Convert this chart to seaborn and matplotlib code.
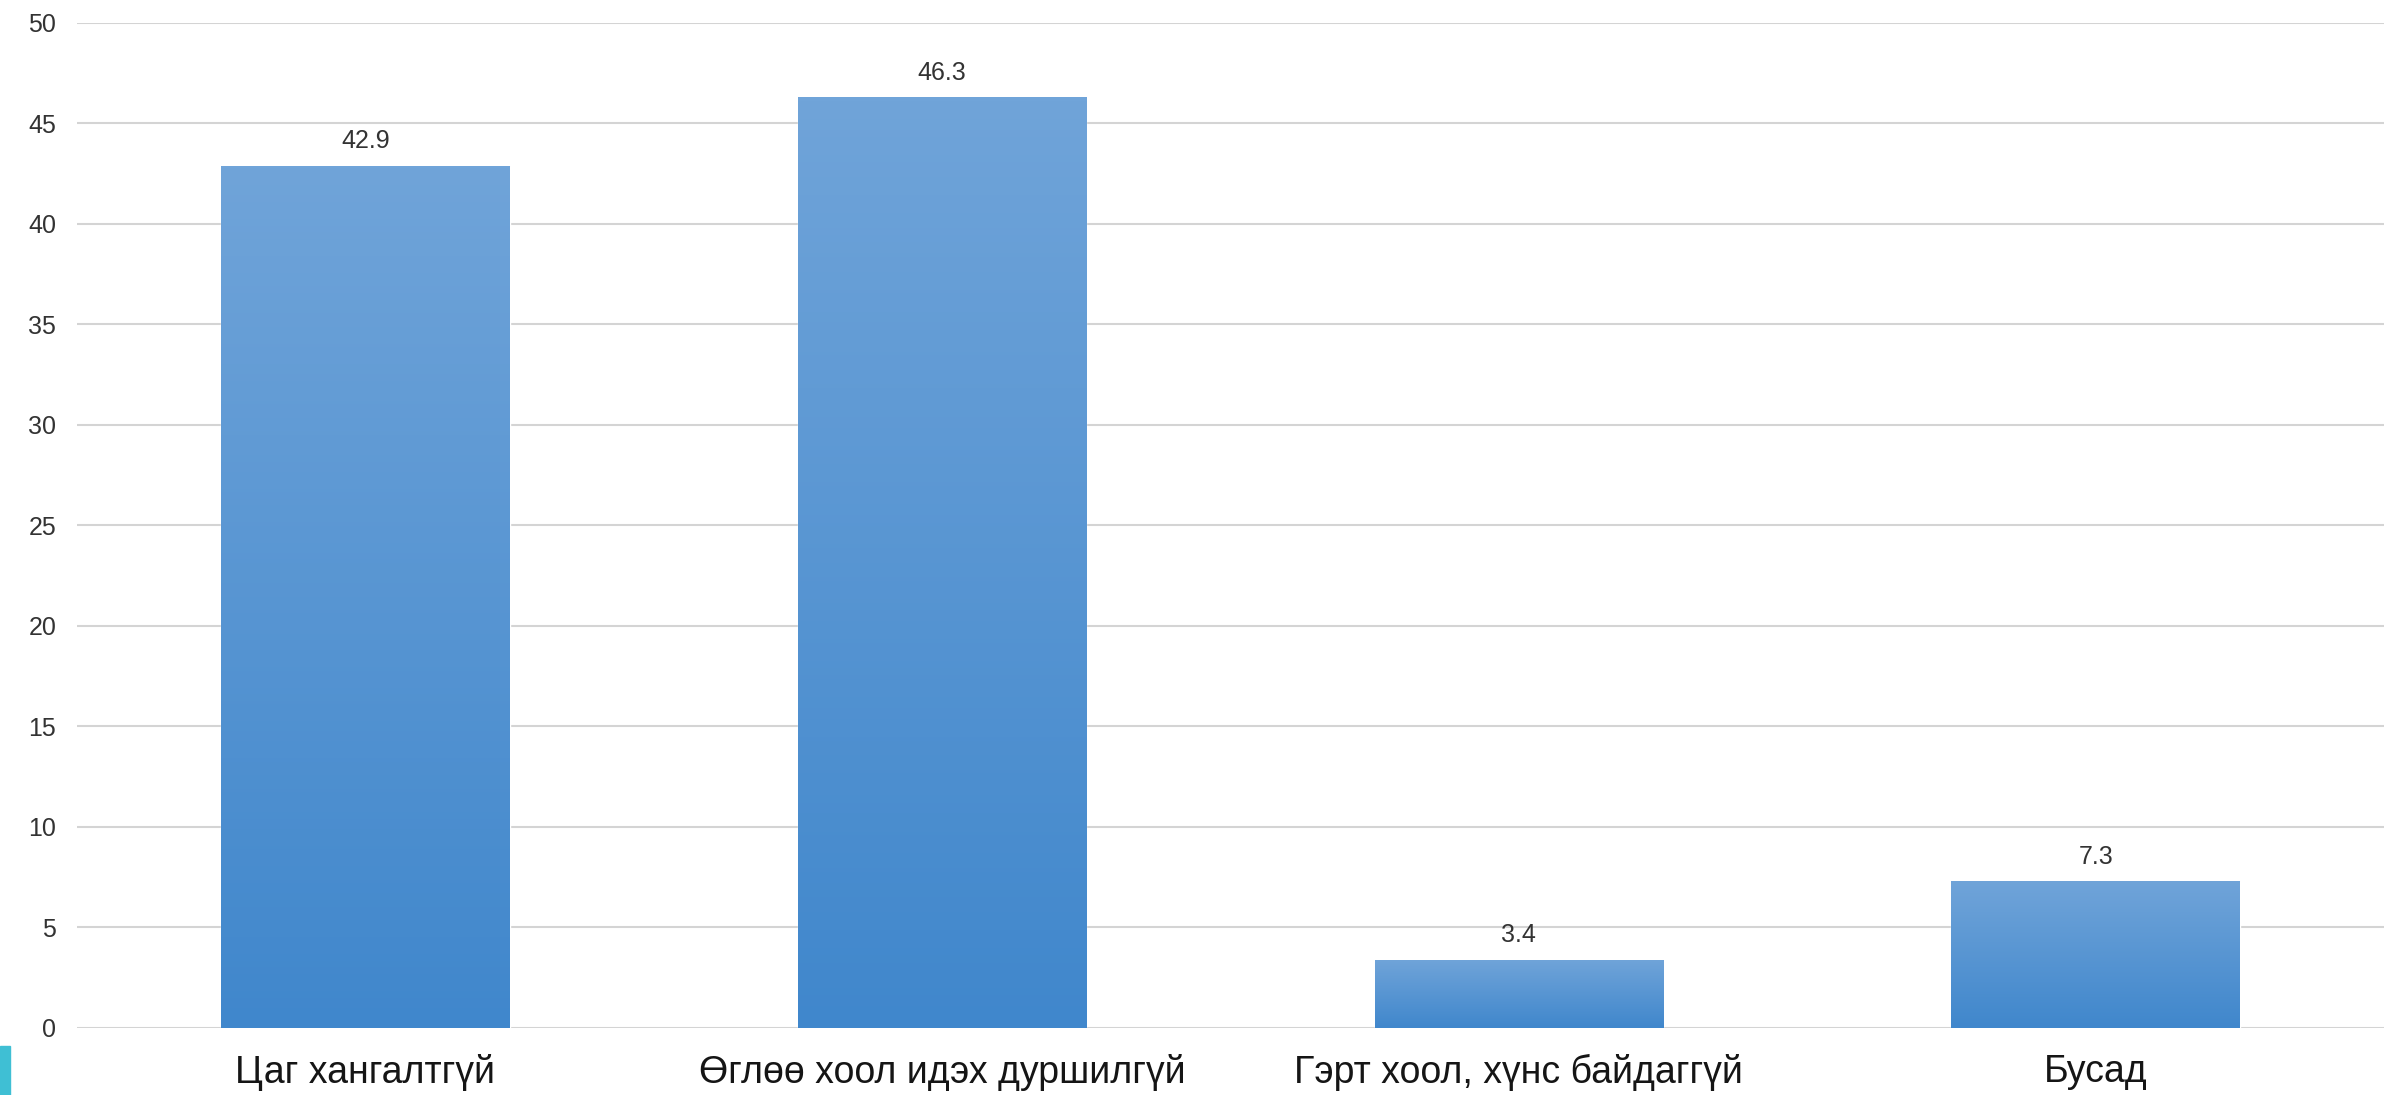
import numpy as np
import pandas as pd
import matplotlib.pyplot as plt
import seaborn as sns
from matplotlib.colors import LinearSegmentedColormap
from matplotlib.patches import Rectangle

categories = ["Цаг хангалтгүй", "Өглөө хоол идэх дуршилгүй",
              "Гэрт хоол, хүнс байдаггүй", "Бусад"]
values = [42.9, 46.3, 3.4, 7.3]
yticks = [0, 5, 10, 15, 20, 25, 30, 35, 40, 45, 50]

df = pd.DataFrame({"reason": categories, "pct": values})

sns.set_theme(style="white")
plt.rcParams["font.family"] = ["Liberation Sans", "DejaVu Sans"]

fig = plt.figure(figsize=(23.84, 10.95), dpi=100)
ax = fig.add_axes([0.0323, 0.0612, 0.9677, 0.9178])

sns.barplot(data=df, x="reason", y="pct", color="#4f90d2", width=0.5,
            saturation=1, ax=ax, zorder=3)

# vertical gradient on each bar
cmap = LinearSegmentedColormap.from_list("bar", ["#4087cc", "#70a4d9"])
grad = np.linspace(0, 1, 256).reshape(-1, 1)
for p in ax.patches:
    x0, y0 = p.get_x(), p.get_y()
    w, h = p.get_width(), p.get_height()
    im = ax.imshow(grad, cmap=cmap, origin="lower", aspect="auto",
                   extent=[x0, x0 + w, y0, y0 + h], zorder=4)
    im.set_clip_path(p)

ax.bar_label(ax.containers[0], labels=[f"{v:.1f}" for v in values],
             padding=9, fontsize=18, color="#333333", zorder=5)

ax.set_xlim(-0.5, 3.5)
ax.set_ylim(0, 50)
ax.set_yticks(yticks)
ax.yaxis.grid(True, color="#d4d4d4", linewidth=1.5, zorder=0)
ax.set_axisbelow(True)
ax.tick_params(axis="y", length=0, pad=15, labelsize=18, labelcolor="#333333")
ax.tick_params(axis="x", length=0, pad=19, labelsize=27, labelcolor="#151515")
ax.set_xlabel("")
ax.set_ylabel("")
for s in ax.spines.values():
    s.set_visible(False)

# small slide-edge accent at bottom left
fig.patches.append(Rectangle((0, 0), 0.004, 0.045, transform=fig.transFigure,
                             color="#3fbfd4", zorder=0))

fig.savefig("out.png", dpi=100)
